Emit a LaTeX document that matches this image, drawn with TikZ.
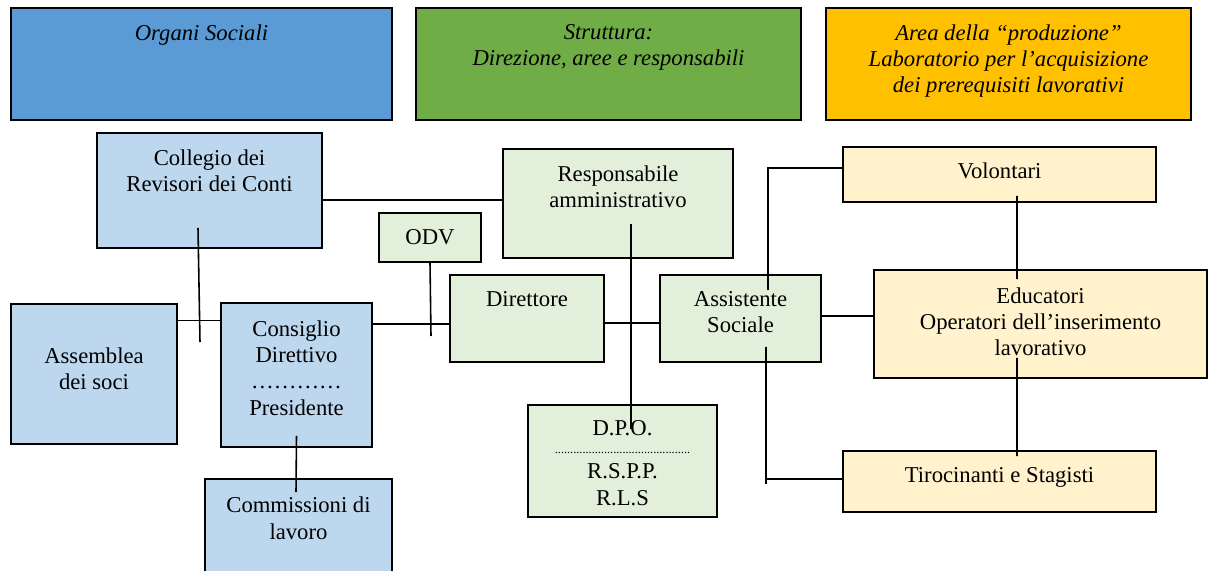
\documentclass[tikz,border=0pt]{standalone}
\usepackage{fontspec}
\setmainfont{Liberation Serif}
\usetikzlibrary{calc}

% Colours of the three areas
\definecolor{headblue}{HTML}{5B9BD5}
\definecolor{headgreen}{HTML}{70AD47}
\definecolor{headorange}{HTML}{FFC000}
\definecolor{paleblue}{HTML}{BDD7EE}
\definecolor{palegreen}{HTML}{E2EFDA}
\definecolor{paleyellow}{HTML}{FFF2CC}

\begin{document}
\begin{tikzpicture}[
    box/.style={draw=black, line width=1pt, rectangle, inner sep=0pt},
    txt/.style={anchor=north, inner sep=0pt, align=center, font=\fontsize{12.9}{15}\selectfont},
    link/.style={line width=0.9pt}
]

    % Fix the size of the page
    \useasboundingbox (0,0) rectangle (24.16,11.4);

    % Draw the three header boxes
    \node[box, fill=headblue, minimum width=7.62cm, minimum height=2.24cm] (org) at (4.03,10.12) {};
    \node[box, fill=headgreen, minimum width=7.70cm, minimum height=2.24cm] (str) at (12.17,10.12) {};
    \node[box, fill=headorange, minimum width=7.30cm, minimum height=2.24cm] (area) at (20.17,10.12) {};
    % Header texts, in italics near the top of each box
    \node[txt, font=\fontsize{12.9}{15}\selectfont\itshape] (org-t) at ($(org.north)+(0,-0.34)$) {Organi Sociali};
    \node[txt, font=\fontsize{12.9}{15}\selectfont\itshape] (str-t) at ($(str.north)+(0,-0.34)$) {Struttura:\\Direzione, aree e responsabili};
    \node[txt, font=\fontsize{12.9}{15}\selectfont\itshape] (area-t) at ($(area.north)+(0,-0.34)$) {Area della “produzione”\\Laboratorio per l’acquisizione\\dei prerequisiti lavorativi};

    % Organi sociali (blue)
    \node[box, fill=paleblue, minimum width=4.50cm, minimum height=2.30cm] (coll) at (4.19,7.59) {};
    \node[txt] (coll-t) at ($(coll.north)+(0,-0.34)$) {Collegio dei\\Revisori dei Conti};
    \node[box, fill=paleblue, minimum width=3.32cm, minimum height=2.80cm] (asse) at (1.88,3.92) {};
    \node[txt] (asse-t) at ($(asse.north)+(0,-0.88)$) {Assemblea\\dei soci};
    \node[box, fill=paleblue, minimum width=3.02cm, minimum height=2.88cm] (cons) at (5.93,3.90) {};
    \node[txt] (cons-t) at ($(cons.north)+(0,-0.36)$) {Consiglio\\Direttivo\\…………\\Presidente};
    \node[box, fill=paleblue, minimum width=3.74cm, minimum height=2.42cm] (comm) at (5.97,0.61) {};
    \node[txt] (comm-t) at ($(comm.north)+(0,-0.37)$) {Commissioni di\\lavoro};

    % Struttura (green)
    \node[box, fill=palegreen, minimum width=4.60cm, minimum height=2.18cm] (resp) at (12.36,7.33) {};
    \node[txt] (resp-t) at ($(resp.north)+(0,-0.34)$) {Responsabile\\amministrativo};
    \node[box, fill=palegreen, minimum width=2.04cm, minimum height=0.98cm] (odv) at (8.60,6.65) {};
    \node[txt] (odv-t) at ($(odv.north)+(0,-0.34)$) {ODV};
    \node[box, fill=palegreen, minimum width=3.08cm, minimum height=1.74cm] (dir) at (10.54,5.03) {};
    \node[txt] (dir-t) at ($(dir.north)+(0,-0.34)$) {Direttore};
    \node[box, fill=palegreen, minimum width=3.22cm, minimum height=1.74cm] (ass) at (14.81,5.03) {};
    \node[txt] (ass-t) at ($(ass.north)+(0,-0.34)$) {Assistente\\Sociale};
    \node[box, fill=palegreen, minimum width=3.78cm, minimum height=2.24cm] (dpo) at (12.45,2.18) {};
    \node[txt] (dpo-t) at ($(dpo.north)+(0,-0.33)$) {D.P.O.};
    \node[anchor=base, inner sep=0pt, font=\fontsize{7}{8}\selectfont] (dpo-d) at ($(dpo.north)+(0,-0.98)$) {............................................};
    \node[txt] (dpo-r) at ($(dpo.north)+(0,-1.19)$) {R.S.P.P.\\R.L.S};

    % Area della produzione (yellow)
    \node[box, fill=paleyellow, minimum width=6.26cm, minimum height=1.10cm] (vol) at (19.99,7.91) {};
    \node[txt] (vol-t) at ($(vol.north)+(0,-0.32)$) {Volontari};
    \node[box, fill=paleyellow, minimum width=6.66cm, minimum height=2.16cm] (edu) at (20.81,4.92) {};
    \node[txt] (edu-t) at ($(edu.north)+(0,-0.36)$) {Educatori\\Operatori dell’inserimento\\lavorativo};
    \node[box, fill=paleyellow, minimum width=6.26cm, minimum height=1.22cm] (tir) at (19.99,1.77) {};
    \node[txt] (tir-t) at ($(tir.north)+(0,-0.35)$) {Tirocinanti e Stagisti};

    % Free ends of the connectors
    \coordinate (cj) at (4.00,4.56);
    \coordinate (oj) at (8.62,4.68);
    \coordinate (tj) at (15.32,1.72);

    % Connectors
    \draw[link] (coll.east |- 0,7.40) -- (resp.west |- 0,7.40);
    \draw[link] ($(coll.south)+(-0.23,0.42)$) -- (cj);
    \draw[link] (asse.east |- 0,4.99) -- (cons.west |- 0,4.99);
    \draw[link] (cons.east |- 0,4.92) -- (dir.west |- 0,4.92);
    \draw[link] (odv.south) -- (oj);
    \draw[link] (dir.east |- 0,4.94) -- (ass.west |- 0,4.94);
    \draw[link] ($(resp.south)+(0.26,0.70)$) -- ($(dpo.north)+(0.17,-0.50)$);
    \draw[link] ($(ass.north)+(0.55,-0.32)$) |- (vol.west |- 0,8.04);
    \draw[link] (ass.east |- 0,5.08) -- (edu.west |- 0,5.08);
    \draw[link] ($(ass.south)+(0.51,0.32)$) -- (tj);
    \draw[link] (tj |- 0,1.82) -- (tir.west |- 0,1.82);
    \draw[link] ($(vol.south)+(0.35,0.14)$) -- ($(edu.north)+(-0.47,-0.20)$);
    \draw[link] ($(edu.south)+(-0.47,0.42)$) -- ($(tir.north)+(0.35,-0.12)$);
    \draw[link] ($(cons.south)+(0,0.24)$) -- ($(comm.north)+(-0.05,-0.28)$);

\end{tikzpicture}
\end{document}
